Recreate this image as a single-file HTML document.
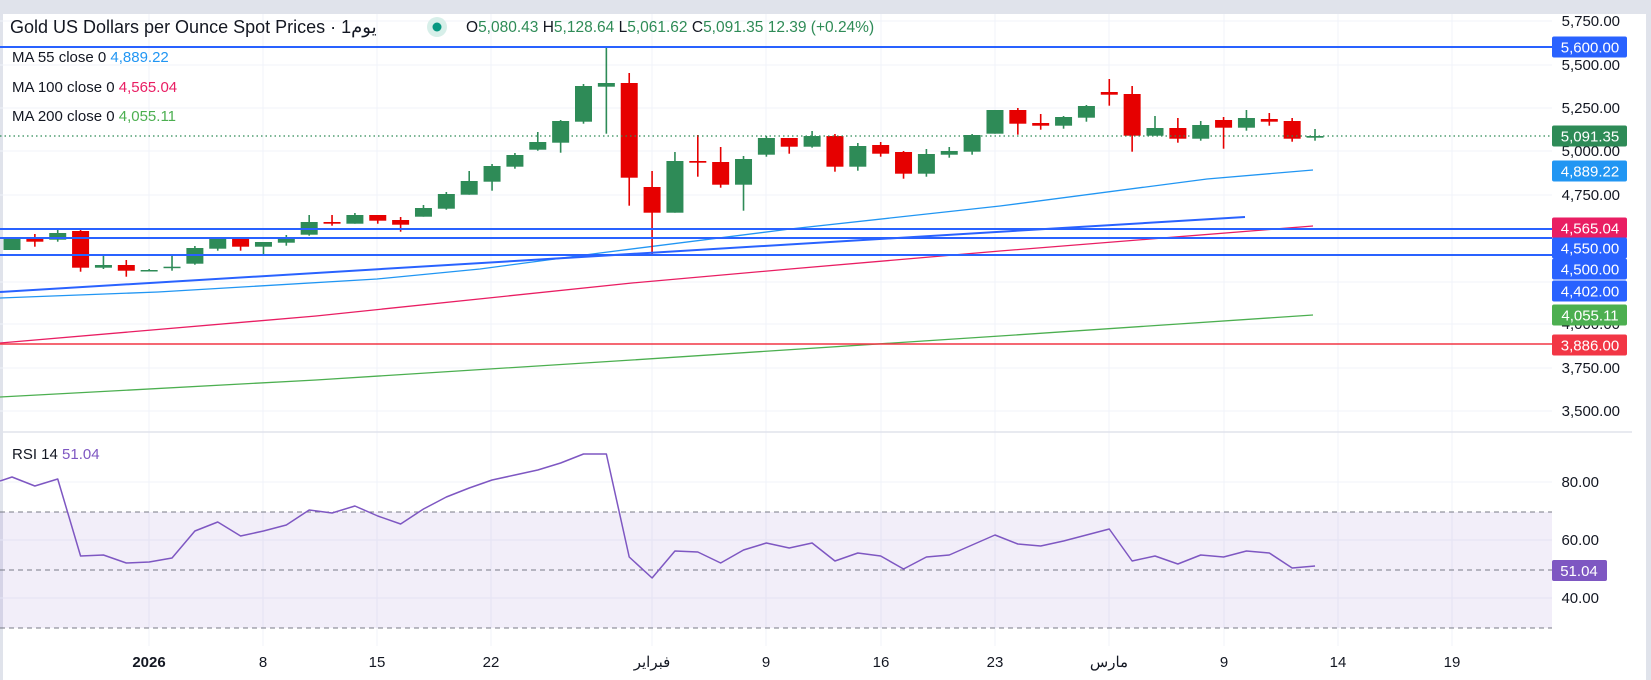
<!DOCTYPE html>
<html><head><meta charset="utf-8">
<style>
html,body{margin:0;padding:0;background:#fff;}
body{width:1651px;height:680px;overflow:hidden;position:relative;font-family:"Liberation Sans","Noto Sans CJK SC",sans-serif;}
svg{position:absolute;left:0;top:0;}
text{font-family:"Liberation Sans","Noto Sans CJK SC",sans-serif;}
</style></head><body>
<svg id="s" width="1651" height="680" viewBox="0 0 1651 680" xmlns="http://www.w3.org/2000/svg">
<rect x="0" y="0" width="1651" height="680" fill="#ffffff"/>
<rect x="0" y="0" width="1651" height="14" fill="#e0e3eb"/>
<rect x="0" y="14" width="3" height="666" fill="#e0e3eb"/>
<rect x="1646" y="0" width="5" height="680" fill="#e0e3eb"/>
<g id="grid" stroke="#f0f3fa" stroke-width="1"></g>
<line x1="0" y1="432" x2="1632" y2="432" stroke="#e0e3eb" stroke-width="1.5"/>
<!-- RSI band -->
<rect x="0" y="512" width="1552" height="116" fill="#7e57c2" fill-opacity="0.1"/>
<g stroke="#787b86" stroke-width="1" stroke-dasharray="5,4">
<line x1="0" y1="512" x2="1552" y2="512"/><line x1="0" y1="570" x2="1552" y2="570"/><line x1="0" y1="628" x2="1552" y2="628"/>
</g>
<g id="ind" fill="none"></g>
<g id="candles"></g>
<!-- horizontal levels -->
<g stroke="#2962ff" stroke-width="2">
<line x1="0" y1="47" x2="1552" y2="47"/>
<line x1="0" y1="229" x2="1552" y2="229"/>
<line x1="0" y1="238" x2="1552" y2="238"/>
<line x1="0" y1="255" x2="1552" y2="255"/>
</g>
<line x1="0" y1="344" x2="1552" y2="344" stroke="#f23645" stroke-width="1.5"/>
<line x1="0" y1="136" x2="1552" y2="136" stroke="#2e8b57" stroke-width="1.2" stroke-dasharray="1.5,3"/>
<line x1="0" y1="292" x2="1245" y2="217" stroke="#2962ff" stroke-width="2"/>

<!-- header -->
<text x="10" y="33" font-size="18" fill="#131722">Gold US Dollars per Ounce Spot Prices · 1يوم</text>
<circle cx="437" cy="27" r="10" fill="#d7efe9"/><circle cx="437" cy="27" r="4.5" fill="#089981"/>
<text x="466" y="32" font-size="15.5" fill="#2e8b57"><tspan fill="#131722">O</tspan>5,080.43 <tspan fill="#131722">H</tspan>5,128.64 <tspan fill="#131722">L</tspan>5,061.62 <tspan fill="#131722">C</tspan>5,091.35 12.39 (+0.24%)</text>
<text x="12" y="62" font-size="15" fill="#131722">MA  55 close 0 <tspan fill="#2196f3">4,889.22</tspan></text>
<text x="12" y="92" font-size="15" fill="#131722">MA  100 close 0 <tspan fill="#e91e63">4,565.04</tspan></text>
<text x="12" y="121" font-size="15" fill="#131722">MA  200 close 0 <tspan fill="#4caf50">4,055.11</tspan></text>
<text x="12" y="459" font-size="15" fill="#131722">RSI  14 <tspan fill="#7e57c2">51.04</tspan></text>

<!-- price axis -->
<g font-size="15" fill="#131722" text-anchor="end">
<text x="1620" y="26">5,750.00</text>
<text x="1620" y="70">5,500.00</text>
<text x="1620" y="113">5,250.00</text>
<text x="1620" y="156">5,000.00</text>
<text x="1620" y="200">4,750.00</text>
<text x="1620" y="329">4,000.00</text>
<text x="1620" y="373">3,750.00</text>
<text x="1620" y="416">3,500.00</text>
<text x="1599" y="487">80.00</text>
<text x="1599" y="545">60.00</text>
<text x="1599" y="603">40.00</text>
</g>
<g id="labels" font-size="15" fill="#fff" text-anchor="middle"></g>
<rect x="1552" y="560" width="55" height="21" rx="2" fill="#7e57c2"/>
<text x="1579" y="576" font-size="15" fill="#fff" text-anchor="middle">51.04</text>

<!-- time axis -->
<g font-size="15" fill="#131722" text-anchor="middle">
<text x="149" y="667" font-weight="bold">2026</text>
<text x="263" y="667">8</text>
<text x="377" y="667">15</text>
<text x="491" y="667">22</text>
<text x="652" y="667">فبراير</text>
<text x="766" y="667">9</text>
<text x="881" y="667">16</text>
<text x="995" y="667">23</text>
<text x="1109" y="667">مارس</text>
<text x="1224" y="667">9</text>
<text x="1338" y="667">14</text>
<text x="1452" y="667">19</text>
</g>
</svg>
<script>
var NS="http://www.w3.org/2000/svg";
function el(p,n,a){var e=document.createElementNS(NS,n);for(var k in a)e.setAttribute(k,a[k]);p.appendChild(e);return e;}
var grid=document.getElementById('grid');
[21,65,108,151,195,238,282,324,368,411,482,540,598].forEach(function(y){el(grid,'line',{x1:0,y1:y,x2:1552,y2:y});});
[149,263,377,491,652,766,881,995,1109,1224,1338,1452].forEach(function(x){el(grid,'line',{x1:x,y1:14,x2:x,y2:646});});
var C=[
['g',238,250,238,250],['r',237.7,241.7,234,246.7],['g',233,239.7,229.7,241.7],['r',231,267.7,229,271.7],
['g',265,267.7,255.7,269],['r',265,270.7,260,276.7],['g',270,271,269,271],['g',266.7,267.7,255.7,270.7],
['g',248,263.7,246,264.7],['g',239,248.7,239,250.7],['r',239,246.7,237.7,250.7],['g',242,246.7,242,254],
['g',237,242.7,235,245.7],['g',222,234.7,215,235.7],['r',222,223.7,215,225.7],['g',215,223.7,213,223.7],
['r',215,220.7,215,223.7],['r',220,224.7,217,231.7],['g',208,216.7,205,216.7],['g',194,208.7,192,209.7],
['g',181,194.7,171,194.7],['g',166,181.7,164,190.7],['g',155,166.7,153,168.7],['g',142,149.7,132,150.7],
['g',121,142.7,120,152.7],['g',86,121.7,84,123.7],['g',83,86.7,47.3,133.7],['r',83,177.7,73,205.7],
['r',187,212.7,171,254.7],['g',161,212.7,152,212.7],['r',161,162.7,135,176.7],['r',162,184.7,147,187.7],
['g',159,184.7,156,210.7],['g',138,154.7,136,156.7],['r',138,146.7,138,153.7],['g',136,146.7,131,147.7],
['r',136,166.7,134,171.7],['g',146,166.7,143,170.7],['r',145,153.7,142,156.7],['r',152,173.7,151,178.7],
['g',154,173.7,149,176.7],['g',151,154.7,147,157.7],['g',135,151.7,134,154.7],['g',110,133.7,110,133.7],
['r',110,123.7,108,134.7],['r',123,125.7,114,129.7],['g',117,125.7,116,128.7],['g',106,117.7,105,121.7],
['r',92,94.7,79,105.7],['r',94,135.7,86,151.7],['g',128,135.7,116,135.7],['r',128,138.7,118,142.7],
['g',125,138.7,121,140.7],['r',120,127.7,117,148.7],['g',118,127.7,110,130.7],['r',119,121.7,113,125.7],
['r',121,138.7,118,141.7],['g',136,137.7,129,140.7]];
var cg=document.getElementById('candles');
C.forEach(function(c,i){var x=12+22.86*i,col=c[0]=='g'?'#2e8b57':'#e60000';
el(cg,'rect',{x:x-0.8,y:c[3],width:1.6,height:Math.max(c[4]-c[3],1),fill:col});
el(cg,'rect',{x:x-8.5,y:c[1],width:17,height:Math.max(c[2]-c[1],1.5),fill:col});});
var ind=document.getElementById('ind');
function pl(pts,col,w){el(ind,'polyline',{points:pts.map(function(p){return p.join(',')}).join(' '),stroke:col,'stroke-width':w,'stroke-linejoin':'round'});}
pl([[0,298],[158,292],[377,279],[480,269],[600,253],[790,229],[1000,206],[1207,179],[1313,170]],'#2196f3',1.3);
pl([[0,343],[316,316],[632,283],[790,269],[1000,251],[1313,226]],'#e91e63',1.3);
pl([[0,397],[316,380],[632,360],[1000,336],[1313,315]],'#4caf50',1.3);
var R=[477,486,479,556,555,563,562,558,531,522,536,531,525,510,513,506,516,524,509,497,488,480,475,470,463,454,454,557,578,551,552,563,550,543,548,543,561,553,556,569,557,555,545,535,544,546,541,535,529,561,556,564,555,557,551,553,568,566];
var rp=[[0,481]];R.forEach(function(y,i){rp.push([12+22.86*i,y]);});
pl(rp,'#7e57c2',1.5);
var lg=document.getElementById('labels');
[[47,'#2962ff','5,600.00'],[136,'#2e8b57','5,091.35'],[171,'#2196f3','4,889.22'],[228,'#e91e63','4,565.04'],
[248,'#2962ff','4,550.00'],[269,'#2962ff','4,500.00'],[291,'#2962ff','4,402.00'],[315,'#4caf50','4,055.11'],[345,'#f23645','3,886.00']].forEach(function(l){
el(lg,'rect',{x:1552,y:l[0]-10.5,width:75,height:21,rx:2,fill:l[1]});
var t=el(lg,'text',{x:1590,y:l[0]+5.5});t.textContent=l[2];});
</script>
</body></html>
